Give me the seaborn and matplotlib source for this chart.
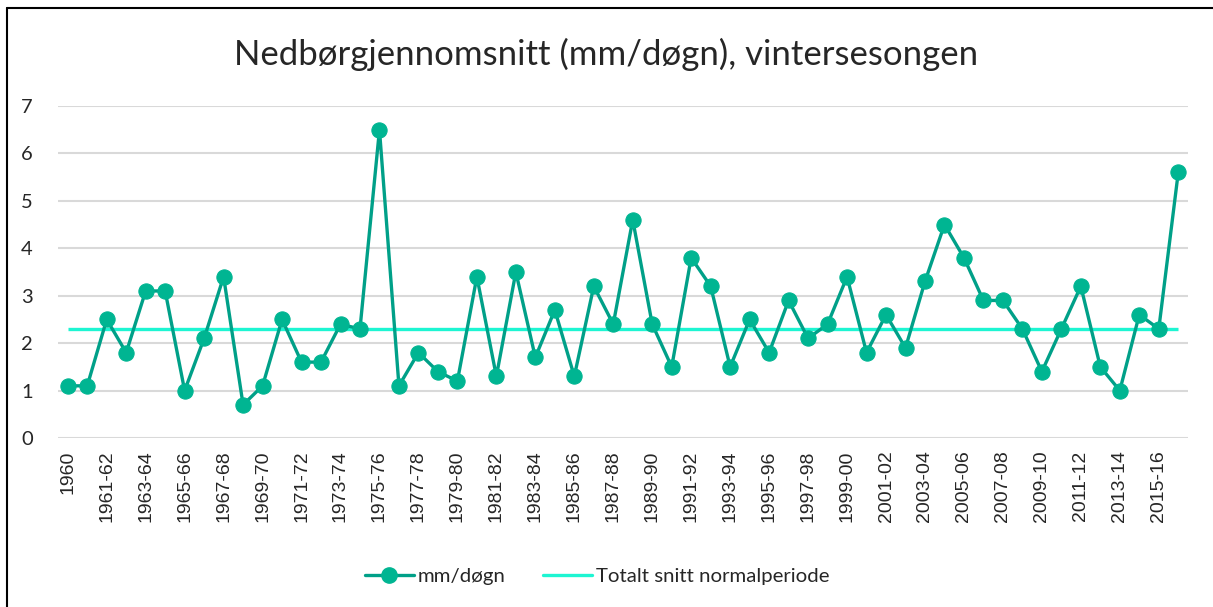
import matplotlib
matplotlib.use('Agg')
import matplotlib.pyplot as plt
import seaborn as sns
import pandas as pd
from matplotlib.lines import Line2D

# Winter seasons: 1960, 1960-61 ... 2016-17
seasons = ['1960'] + [f'{y}-{str(y + 1)[2:]}' for y in range(1960, 2017)]

mm_per_day = [1.1, 1.1, 2.5, 1.8, 3.1, 3.1, 1.0, 2.1, 3.4, 0.7,
              1.1, 2.5, 1.6, 1.6, 2.4, 2.3, 6.5, 1.1, 1.8, 1.4,
              1.2, 3.4, 1.3, 3.5, 1.7, 2.7, 1.3, 3.2, 2.4, 4.6,
              2.4, 1.5, 3.8, 3.2, 1.5, 2.5, 1.8, 2.9, 2.1, 2.4,
              3.4, 1.8, 2.6, 1.9, 3.3, 4.5, 3.8, 2.9, 2.9, 2.3,
              1.4, 2.3, 3.2, 1.5, 1.0, 2.6, 2.3, 5.6]

normal_avg = 2.3

line_color = '#00A088'
marker_color = '#00B592'
avg_color = '#1DF5D2'


def main():
    sns.set_style('white')
    plt.rcParams['font.family'] = ['Lato', 'DejaVu Sans']

    df = pd.DataFrame({'idx': range(len(seasons)), 'season': seasons,
                       'value': mm_per_day})

    fig = plt.figure(figsize=(12.13, 6.07), dpi=100)
    ax = fig.add_axes([58 / 1213, 169 / 607, 1130 / 1213, 332 / 607])

    sns.lineplot(data=df, x='idx', y='value', ax=ax, color=line_color,
                 linewidth=2.4, marker='o', markersize=11,
                 markerfacecolor=marker_color, markeredgecolor=marker_color,
                 zorder=3)
    ax.hlines(normal_avg, 0, len(seasons) - 1, color=avg_color,
              linewidth=2.4, zorder=2)

    ax.set_xlim(-0.5, len(seasons) - 0.5)
    ax.set_ylim(0, 7)
    ax.set_yticks(range(0, 8))
    ax.grid(axis='y', color='#D9D9D9', linewidth=1.5)
    ax.grid(axis='x', visible=False)
    for s in ax.spines.values():
        s.set_visible(False)

    ax.set_xticks(df['idx'][::2])
    ax.set_xticklabels(df['season'][::2], rotation=90,
                       family=['Liberation Sans', 'DejaVu Sans'])
    ax.tick_params(axis='x', length=0, pad=9, labelsize=14)
    ax.tick_params(axis='y', length=0, pad=18, labelsize=14.5)
    ax.set_xlabel('')
    ax.set_ylabel('')

    fig.text(0.5, 1 - 54 / 607, 'Nedbørgjennomsnitt (mm/døgn), vintersesongen',
             ha='center', va='center', fontsize=25)

    handles = [Line2D([], [], color=line_color, linewidth=2.4, marker='o',
                      markersize=11, markerfacecolor=marker_color,
                      markeredgecolor=marker_color),
               Line2D([], [], color=avg_color, linewidth=2.4)]
    fig.legend(handles, ['mm/døgn', 'Totalt snitt normalperiode'],
               loc='center', bbox_to_anchor=(597 / 1213, 1 - 576 / 607), ncol=2,
               frameon=False, fontsize=14.7, handlelength=2.4,
               columnspacing=1.8, handletextpad=0.2)

    # chart border (left and top edges visible)
    fig.add_artist(Line2D([7 / 1213, 7 / 1213], [0, 1 - 8 / 607],
                          color='black', linewidth=1.5,
                          transform=fig.transFigure))
    fig.add_artist(Line2D([7 / 1213, 1], [1 - 8 / 607, 1 - 8 / 607],
                          color='black', linewidth=1.5,
                          transform=fig.transFigure))

    fig.savefig('out.png', dpi=100)


if __name__ == "__main__":
    main()
